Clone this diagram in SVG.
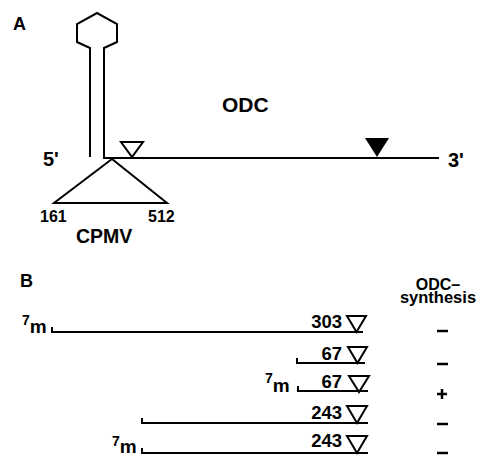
<svg xmlns="http://www.w3.org/2000/svg" width="482" height="455" viewBox="0 0 482 455">
<style>
.ln{fill:none;stroke:#000;stroke-width:2;stroke-linejoin:miter}
.dash{fill:none;stroke:#000;stroke-width:2.5}
.t{font-family:"Liberation Sans",Arial,sans-serif;font-weight:bold;fill:#000}
.open{fill:#fff;stroke:#000;stroke-width:2;stroke-linejoin:miter}
.num{font-size:18.5px;text-anchor:end}
.sup{font-size:14px}
.m{font-size:19px}
</style>
<rect width="482" height="455" fill="#fff"/>
<g id="panelA">
<text class="t" x="13" y="30" font-size="18">A</text>
<g id="hairpin">
<path class="ln" d="M90,157 V48 L77,42 V24 L97,13 L117,24 V42 L104,48 V158"/>
</g>
<g id="mrna">
<line class="ln" x1="103" y1="158" x2="439" y2="158"/>
<text class="t" x="43" y="166" font-size="20">5'</text>
<text class="t" x="448" y="167" font-size="20">3'</text>
<text class="t" x="222" y="112" font-size="21">ODC</text>
</g>
<polygon id="open-start" class="open" points="121,142 143,142 132,157"/>
<polygon id="filled-stop" points="365,138 389,138 377,157" fill="#000"/>
<g id="cpmv">
<polygon class="ln" points="112,159 54,203 167,203"/>
<text class="t" x="40" y="222" font-size="16">161</text>
<text class="t" x="148" y="222" font-size="16">512</text>
<text class="t" x="76" y="243" font-size="19.5">CPMV</text>
</g>
</g>
<g id="panelB">
<text class="t" x="20" y="287" font-size="18">B</text>
<text class="t" text-anchor="middle"><tspan x="438" y="290" font-size="16">ODC–</tspan><tspan x="438" y="303" font-size="16.5">synthesis</tspan></text>
<g id="row1">
<text class="t" x="22" y="325"><tspan class="sup">7</tspan><tspan class="m" dy="8">m</tspan></text>
<path class="ln" d="M52,327 V332 H363"/>
<text class="t num" x="342" y="328">303</text>
<polygon class="open" points="347,316 366,316 356.5,332"/>
<line class="dash" x1="437" y1="331" x2="448" y2="331"/>
</g>
<g id="row2">
<path class="ln" d="M297,358 V363 H365"/>
<text class="t num" x="342" y="360">67</text>
<polygon class="open" points="348,347 367,347 357.5,363"/>
<line class="dash" x1="437" y1="364" x2="448" y2="364"/>
</g>
<g id="row3">
<text class="t" x="265" y="383"><tspan class="sup">7</tspan><tspan class="m" dy="9">m</tspan></text>
<path class="ln" d="M298,386 V391 H368"/>
<text class="t num" x="342" y="388">67</text>
<polygon class="open" points="349,376 369,376 359,392"/>
<path class="dash" d="M437,394 H447 M442,389 V399"/>
</g>
<g id="row4">
<path class="ln" d="M142,418 V423 H368"/>
<text class="t num" x="342" y="419">243</text>
<polygon class="open" points="347,406 367,406 357,423"/>
<line class="dash" x1="437" y1="424" x2="448" y2="424"/>
</g>
<g id="row5">
<text class="t" x="112" y="446"><tspan class="sup">7</tspan><tspan class="m" dy="7">m</tspan></text>
<path class="ln" d="M142,448 V453 H368"/>
<text class="t num" x="342" y="447">243</text>
<polygon class="open" points="347,436 367,436 357,453"/>
<line class="dash" x1="437" y1="453" x2="448" y2="453"/>
</g>
</g>
</svg>
